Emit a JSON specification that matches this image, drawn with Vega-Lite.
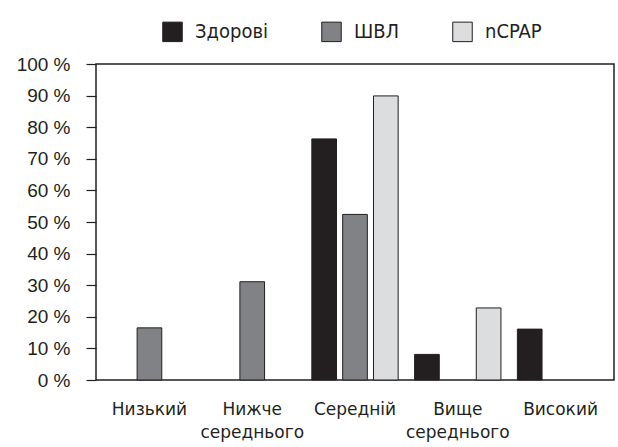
{
  "$schema": "https://vega.github.io/schema/vega-lite/v6.json",
  "autosize": {"type": "none"},
  "width": 518,
  "height": 316,
  "padding": {"left": 96, "top": 64, "right": 4, "bottom": 67},
  "background": "white",
  "config": {
    "font": "Liberation Sans",
    "view": {"stroke": "#231f20", "strokeWidth": 1.5},
    "axis": {"labelColor": "#231f20", "grid": false, "domain": false}
  },
  "data": {
    "values": [
      {"level": "Низький", "group": "ШВЛ", "pct": 16.5},
      {"level": "Нижче середнього", "group": "ШВЛ", "pct": 31.1},
      {"level": "Середній", "group": "Здорові", "pct": 76.3},
      {"level": "Середній", "group": "ШВЛ", "pct": 52.4},
      {"level": "Середній", "group": "nCPAP", "pct": 89.9},
      {"level": "Вище середнього", "group": "Здорові", "pct": 8.1},
      {"level": "Вище середнього", "group": "nCPAP", "pct": 22.8},
      {"level": "Високий", "group": "Здорові", "pct": 16.1}
    ]
  },
  "mark": {"type": "bar", "stroke": "#231f20", "strokeWidth": 1},
  "encoding": {
    "x": {
      "field": "level",
      "type": "nominal",
      "sort": ["Низький", "Нижче середнього", "Середній", "Вище середнього", "Високий"],
      "scale": {"paddingInner": 0.16, "paddingOuter": 0.1},
      "axis": {"title": null, "labelAngle": 0, "ticks": false, "labelPadding": 21, "labelFont": "DejaVu Sans", "labelFontSize": 17, "labelExpr": "split(datum.label, ' ')", "labelLineHeight": 23, "labelBaseline": "top"}
    },
    "xOffset": {
      "field": "group",
      "type": "nominal",
      "sort": ["Здорові", "ШВЛ", "nCPAP"],
      "scale": {"domain": ["Здорові", "ШВЛ", "nCPAP"], "paddingInner": 0.2, "paddingOuter": 0}
    },
    "y": {
      "field": "pct",
      "type": "quantitative",
      "scale": {"domain": [0, 100], "nice": false},
      "axis": {"title": null, "values": [0, 10, 20, 30, 40, 50, 60, 70, 80, 90, 100], "labelExpr": "datum.value + ' %'", "labelFont": "Liberation Sans", "labelFontSize": 19, "tickSize": 10, "tickColor": "#231f20", "tickWidth": 1.2, "labelPadding": 16}
    },
    "fill": {
      "field": "group",
      "type": "nominal",
      "scale": {"domain": ["Здорові", "ШВЛ", "nCPAP"], "range": ["#231f20", "#808285", "#dcddde"]},
      "legend": {
        "title": null,
        "orient": "none",
        "legendX": 66,
        "legendY": -43,
        "direction": "horizontal",
        "symbolType": "square",
        "symbolSize": 380,
        "symbolStrokeColor": "#231f20",
        "symbolStrokeWidth": 1,
        "labelFont": "DejaVu Sans Condensed",
        "labelFontSize": 20,
        "labelColor": "#231f20",
        "labelOffset": 12,
        "columnPadding": 50
      }
    }
  }
}
